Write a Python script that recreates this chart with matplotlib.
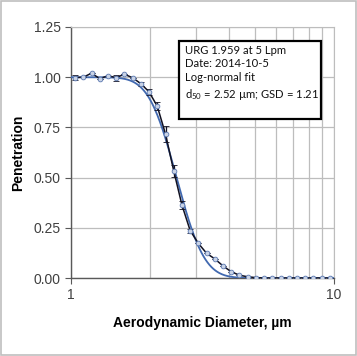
import math
import numpy as np
import matplotlib
matplotlib.use("Agg")
import matplotlib.pyplot as plt
from matplotlib.patches import Rectangle

# APS channel midpoints (um) and measured penetration
diam = [1.037, 1.114, 1.197, 1.286, 1.382, 1.486, 1.596, 1.715, 1.843, 1.981,
        2.129, 2.288, 2.458, 2.642, 2.839, 3.051, 3.278, 3.523, 3.786, 4.068,
        4.371, 4.698, 5.048, 5.425, 5.829, 6.264, 6.732, 7.234, 7.774, 8.354,
        8.977, 9.647]
pen = [0.998, 1.000, 1.020, 0.993, 1.007, 0.998, 1.015, 0.997, 0.968, 0.927,
       0.855, 0.716, 0.534, 0.363, 0.236, 0.172, 0.123, 0.095, 0.060, 0.031,
       0.014, 0.006, 0.002, 0.0, 0.0, 0.0, 0.0, 0.0, 0.0, 0.0,
       0.0, 0.0]
err = [0.012, 0.0, 0.0, 0.0, 0.0, 0.015, 0.0, 0.0, 0.01, 0.015,
       0.02, 0.04, 0.03, 0.02, 0.01, 0.0, 0.0, 0.0, 0.0, 0.0,
       0.0, 0.0, 0.0, 0.0, 0.0, 0.0, 0.0, 0.0, 0.0, 0.0,
       0.0, 0.0]

# log-normal fit parameters from the legend box
d50 = 2.52
gsd = 1.21

xfit = np.logspace(0, 1, 400)
yfit = [1 - 0.5 * (1 + math.erf(math.log(d / d50) / math.log(gsd) / math.sqrt(2))) for d in xfit]

plt.rcParams['font.family'] = ['Liberation Sans', 'DejaVu Sans']

fig = plt.figure(figsize=(3.57, 3.56), dpi=100)
ax = fig.add_axes([71 / 357, 78 / 356, 263 / 357, 251 / 356])

ax.plot(xfit, yfit, color="#4169B0", linewidth=1.3, zorder=3)
ax.errorbar(diam, pen, yerr=err, color="#111122", linewidth=1.1, elinewidth=0.9,
            capsize=2, capthick=0.9, marker="o", markersize=3.4,
            markerfacecolor="#C9D3E6", markeredgecolor="#5A78B0", markeredgewidth=0.6,
            zorder=4)

ax.set_xscale("log")
ax.set_xlim(1, 10)
ax.set_ylim(0, 1.25)
ax.set_xticks([1, 10])
ax.set_xticklabels(["1", "10"])
ax.set_xticks([2, 3, 4, 5, 6, 7, 8, 9], minor=True)
ax.xaxis.set_minor_formatter(plt.NullFormatter())
ax.set_yticks([0, 0.25, 0.5, 0.75, 1.0, 1.25])
ax.set_yticklabels(["0.00", "0.25", "0.50", "0.75", "1.00", "1.25"])

ax.grid(True, which="both", axis="x", color="#BDBDBD", linewidth=0.9)
ax.grid(True, which="major", axis="y", color="#BDBDBD", linewidth=0.9)
ax.set_axisbelow(True)

for s in ["top", "right"]:
    ax.spines[s].set_color("#BDBDBD")
for s in ["left", "bottom"]:
    ax.spines[s].set_color("#595959")
    ax.spines[s].set_linewidth(1.0)

ax.tick_params(axis="both", which="major", direction="out", length=4, color="#595959",
               labelsize=10, labelcolor="#404040")
ax.tick_params(axis="x", which="minor", length=0)

ax.set_xlabel("Aerodynamic Diameter, µm", fontsize=10, fontweight="bold", labelpad=10)
ax.set_ylabel("Penetration", fontsize=10, fontweight="bold", labelpad=6)

# annotation box
ax.add_patch(Rectangle((0.411, 0.633), 0.540, 0.311, transform=ax.transAxes,
                       facecolor="white", edgecolor="black", linewidth=1.6, zorder=5))
ax.text(0.433, 0.93,
        "URG 1.959 at 5 Lpm\nDate: 2014-10-5\nLog-normal fit\n$\\mathregular{d_{50}}$ = 2.52 µm; GSD = 1.21",
        transform=ax.transAxes, fontsize=8.1, family=["Lato", "DejaVu Sans"],
        va="top", ha="left", linespacing=1.32, color="#111111", zorder=6)

fig.patches.append(Rectangle((0.003, 0.003), 0.994, 0.994, transform=fig.transFigure,
                             fill=False, edgecolor="#BFBFBF", linewidth=1.2))

fig.savefig("out.png", dpi=100)
